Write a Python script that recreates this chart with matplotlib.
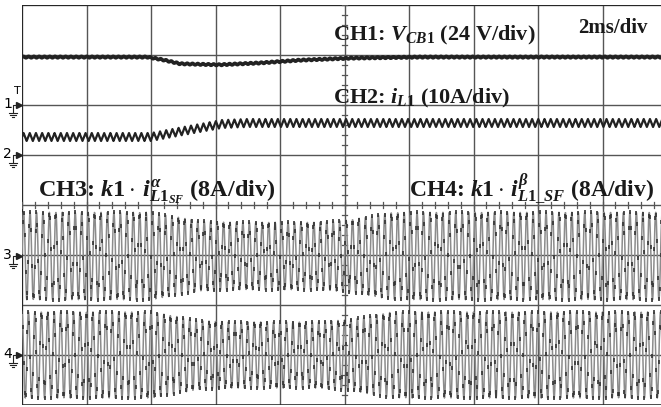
import matplotlib.pyplot as plt
import numpy as np

plt.rcParams['mathtext.fontset'] = 'custom'
plt.rcParams['mathtext.rm'] = 'Liberation Serif:bold'
plt.rcParams['mathtext.it'] = 'Liberation Serif:italic:bold'
plt.rcParams['mathtext.bf'] = 'Liberation Serif:bold'

# scope settings (divisions)
time_per_div = 2.0          # ms/div
ch_scale = [24.0, 10.0, 8.0, 8.0]   # units per div
ch_offset = [2.0, 1.0, -1.02, -3.0]  # ground marker position, div

# CH1: V_CB1 mean level (V)
ch1_t = [0.0, 3.9, 4.4, 4.9, 6.1, 7.4, 8.6, 10.2, 12.3, 20.5]
ch1_v = [23.0, 23.0, 21.6, 19.8, 19.3, 20.2, 21.5, 22.5, 23.0, 23.0]
ch1_ripple = 0.35           # V
# CH2: i_L1 mean (A) and ripple
ch2_t = [0.0, 4.0, 5.0, 6.2, 7.0, 20.5]
ch2_i = [3.6, 3.6, 4.8, 6.2, 6.4, 6.4]
ch2_ripple = 0.8            # A peak
ch2_freq = 5.2              # kHz
# CH3 / CH4 envelopes (A peak)
ch3_t = [0.0, 4.0, 5.5, 6.5, 9.2, 10.2, 11.4, 12.0, 20.5]
ch3_a = [7.0, 7.0, 5.6, 5.4, 5.4, 5.8, 6.9, 7.0, 7.0]
ch4_t = [0.0, 4.0, 5.5, 6.5, 9.2, 10.2, 11.4, 12.0, 20.5]
ch4_a = [6.9, 6.9, 5.5, 5.3, 5.3, 5.7, 6.8, 6.9, 6.9]
ac_freq = 5.0               # kHz

fig = plt.figure(figsize=(6.61, 4.07), dpi=100)
ax = fig.add_axes([22 / 661, 2 / 407, 645 / 661, 400 / 407])
ax.set_xlim(0, 10 * time_per_div)
ax.set_ylim(-4, 4)
ax.axis('off')

def px_t(px):
    return (px - 22) / 32.25

def px_y(py):
    return (205 - py) / 50.0

# grid
for k in range(11):
    ax.axvline(k * time_per_div, color='#555555', lw=1.0, zorder=1)
for k in range(-4, 5):
    ax.axhline(k, color='#555555', lw=1.0, zorder=1)
ax.axhline(4, color='#222222', lw=1.3, zorder=1)
ax.axhline(-4, color='#222222', lw=1.8, zorder=1)
ax.axvline(0, color='#222222', lw=1.3, zorder=1)
# center ticks
for yy in np.arange(-4, 4.01, 0.2):
    ax.plot([10 - 0.09, 10 + 0.09], [yy, yy], color='#555555', lw=0.9, zorder=1)
for xx in np.arange(0, 20.01, 0.4):
    ax.plot([xx, xx], [-0.06, 0.06], color='#555555', lw=0.9, zorder=1)

t = np.linspace(0, 20.5, 12000)

# CH1
v1 = np.interp(t, ch1_t, ch1_v) + ch1_ripple * np.sin(2 * np.pi * 6.1 * t)
ax.plot(t, ch_offset[0] + v1 / ch_scale[0], color='#222222', lw=2.6, zorder=3)

# CH2 triangle ripple
tri = 2 / np.pi * np.arcsin(np.sin(2 * np.pi * ch2_freq * t))
i2 = np.interp(t, ch2_t, ch2_i) + ch2_ripple * tri
ax.plot(t, ch_offset[1] + i2 / ch_scale[1], color='#222222', lw=1.6, zorder=3)

# CH3 / CH4
ts = np.linspace(0, 20.5, 2200)
env3 = np.interp(ts, ch3_t, ch3_a)
env4 = np.interp(ts, ch4_t, ch4_a)
y3 = ch_offset[2] + env3 * np.sin(2 * np.pi * ac_freq * ts) / ch_scale[2]
y4 = ch_offset[3] + env4 * np.sin(2 * np.pi * ac_freq * ts + np.pi / 2) / ch_scale[3]
for yy in (y3, y4):
    ax.plot(ts, yy, color='#8c8c8c', lw=1.1, zorder=2)
    ax.plot(ts[::3], yy[::3], ls='none', marker='|', ms=3, mew=1.2,
            color='#333333', zorder=2)

# channel markers
for n, off in enumerate(ch_offset):
    yy = off
    ax.plot([px_t(13), px_t(13), px_t(17)], [yy - 0.15, yy, yy], color='#222222',
            lw=0.8, clip_on=False)
    for w, dy in [(4, 0.15), (2.6, 0.19), (1.2, 0.23)]:
        ax.plot([px_t(13 - w), px_t(13 + w)], [yy - dy, yy - dy], color='#222222',
                lw=0.8, clip_on=False)
    ax.plot(px_t(19), yy, marker='>', ms=5, color='#222222', clip_on=False)
    ax.text(px_t(12), yy + 0.02, str(n + 1), fontsize=10, family='DejaVu Sans',
            ha='right', va='center', clip_on=False)
ax.text(px_t(17), px_y(91), 'T', fontsize=8, family='DejaVu Sans',
        ha='center', va='center', clip_on=False)

# labels
tk = dict(family='Liberation Serif', weight='bold', color='#1a1a1a', zorder=5)
ax.text(px_t(333), px_y(40), r'CH1: $V_{CB1}$ (24 V/div)', fontsize=16, **tk)
ax.text(px_t(578), px_y(33), '2ms/div', fontsize=15, **tk)
ax.text(px_t(333), px_y(103), r'CH2: $i_{L1}$ (10A/div)', fontsize=16, **tk)
ax.text(px_t(38), px_y(196), r'CH3: $\mathit{k1}\cdot\, i^{\alpha}_{L1_{SF}}$ (8A/div)',
        fontsize=17.5, **tk)
ax.text(px_t(409), px_y(196), r'CH4: $\mathit{k1}\cdot\, i^{\beta}_{L1\_SF}$ (8A/div)',
        fontsize=17, **tk)

fig.savefig('out.png', dpi=100)
